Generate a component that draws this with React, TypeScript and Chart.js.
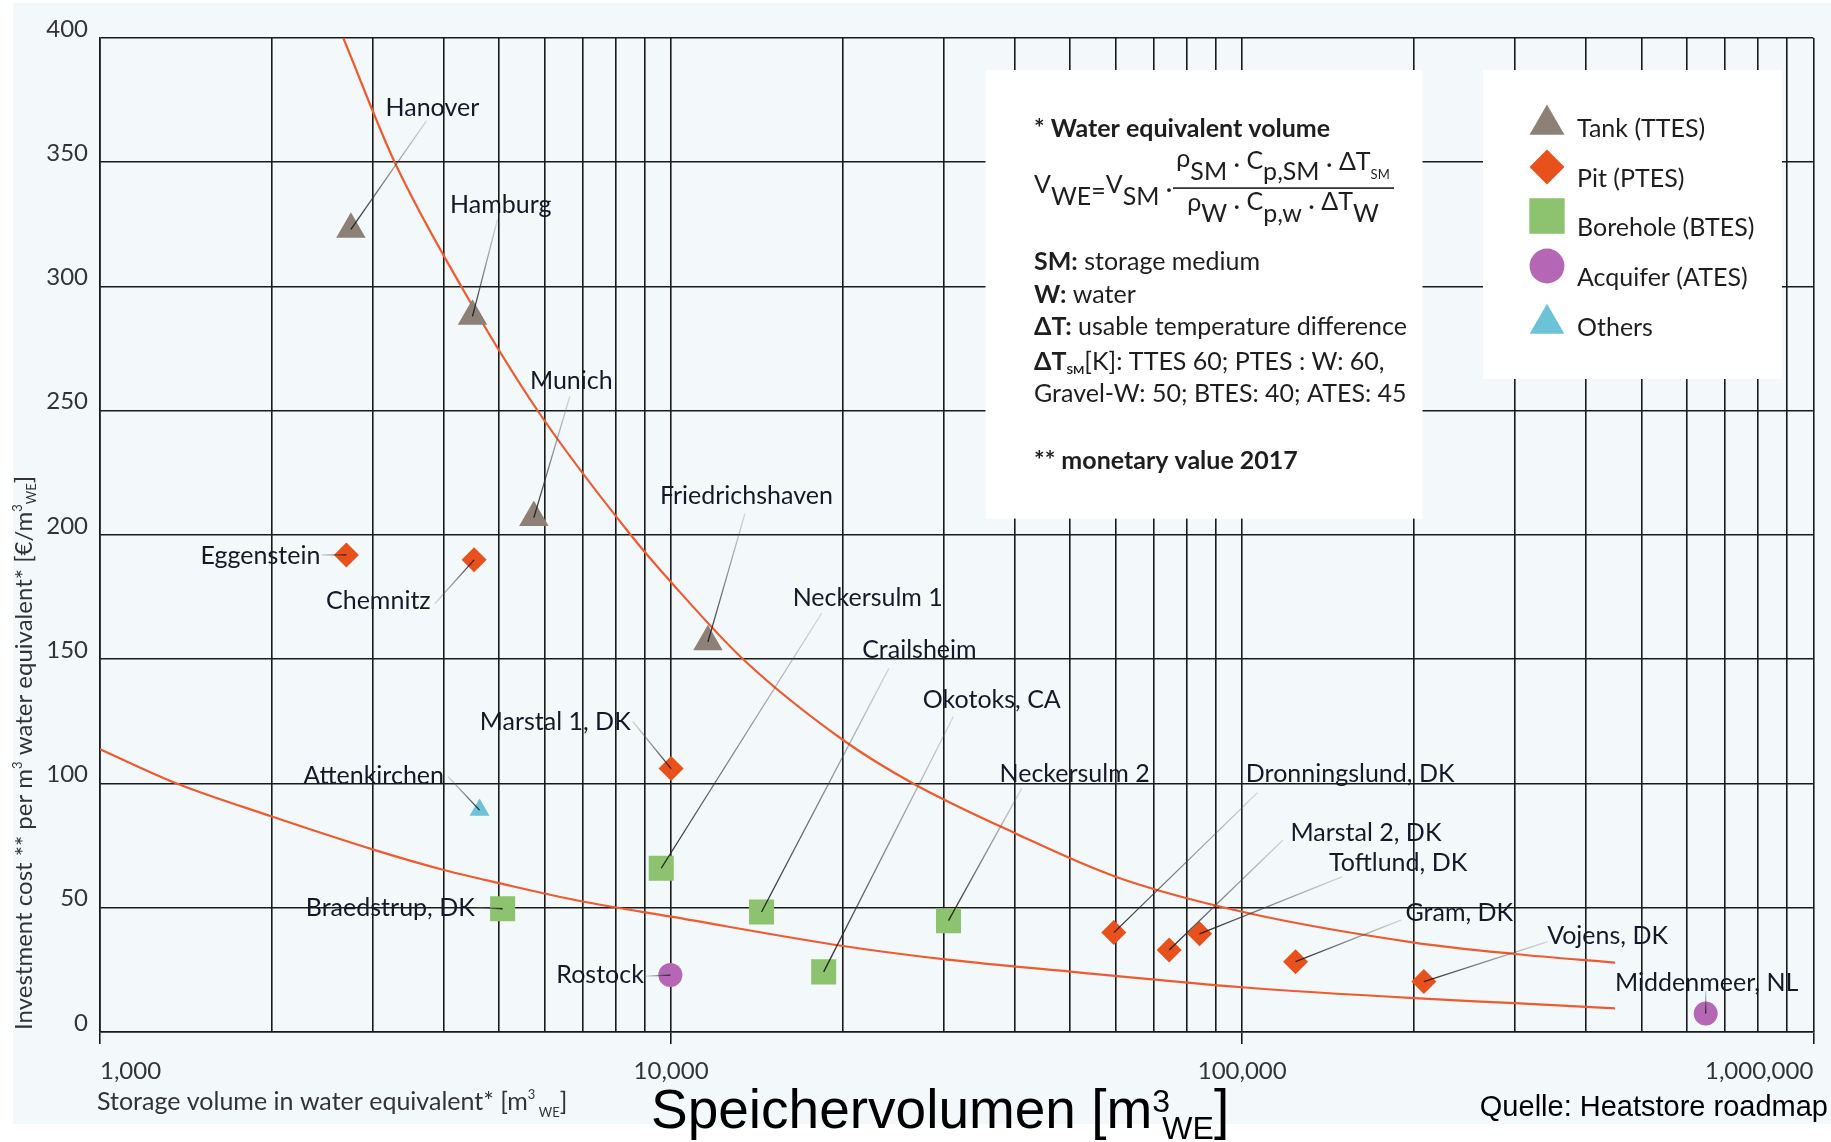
import React, { useEffect, useRef } from 'react';
import { Chart, registerables } from 'chart.js';

Chart.register(...registerables);

const W = 1831;
const H = 1142;

// ---------- tick definitions ----------
const xMajorTicks = [1000, 10000, 100000, 1000000];
const xTickLabels = ['1,000', '10,000', '100,000', '1,000,000'];
const xMinorSteps = [2, 3, 4, 5, 6, 7, 8, 9];
const yTickValues = [0, 50, 100, 150, 200, 250, 300, 350, 400];
const yTickLabels = ['0', '50', '100', '150', '200', '250', '300', '350', '400'];

// ---------- data (volume m3 WE, cost EUR/m3 WE) ----------
const tankNames = ['Hanover', 'Hamburg', 'Munich', 'Friedrichshaven'];
const tankVolume = [2750, 4490, 5750, 11600];
const tankCost = [323, 288, 207, 157];

const pitNames = ['Eggenstein', 'Chemnitz', 'Marstal 1, DK', 'Dronningslund, DK', 'Marstal 2, DK', 'Toftlund, DK', 'Gram, DK', 'Vojens, DK'];
const pitVolume = [2700, 4520, 10000, 59600, 74500, 84200, 124000, 208000];
const pitCost = [192, 190, 106, 40, 33, 39.5, 28.3, 20.3];

const boreholeNames = ['Braedstrup, DK', 'Neckersulm 1', 'Crailsheim', 'Okotoks, CA', 'Neckersulm 2'];
const boreholeVolume = [5070, 9610, 14400, 18500, 30600];
const boreholeCost = [49.6, 65.9, 48.3, 24.2, 44.8];

const aquiferNames = ['Rostock', 'Middenmeer, NL'];
const aquiferVolume = [9970, 648000];
const aquiferCost = [22.9, 7.4];

const otherNames = ['Attenkirchen'];
const otherVolume = [4620];
const otherCost = [89.3];

const upperCurveVolume = [2667, 3281, 4292, 5840, 8500, 10000, 13370, 20000, 26530, 40000, 60000, 100000, 200000, 300000, 449600];
const upperCurveCost = [400, 350, 300, 250, 200, 181, 150, 117.5, 100, 80, 62.5, 48.4, 36, 31.4, 27.9];

const lowerCurveVolume = [1000, 1363, 2000, 3000, 4000, 5000, 7000, 10000, 20000, 30760, 50000, 100000, 200000, 300000, 449600];
const lowerCurveCost = [113.8, 100, 86.7, 73.5, 65.2, 59.9, 52.5, 46.4, 34.6, 29, 24.3, 18, 13.6, 11.6, 9.5];

// ---------- styles / layout ----------
const BG = '#F3F8FB';
const GRID = '#1a1a1a';
const TICK = '#333333';
const LABEL = '#17172a';
const CURVE = '#F05A2E';
const C_TANK = '#8C8077';
const C_PIT = '#E8501C';
const C_BTES = '#8DC26F';
const C_ATES = '#B566B5';
const C_OTHER = '#6CC2D6';
const FONT = 'Lato, "Open Sans", "DejaVu Sans", sans-serif';
const ARIAL = '"Liberation Sans", Arial, sans-serif';
const LABEL_SIZE = 25;
const NOTE_SIZE = 25;

// label placement relative to the marker pixel: text anchor (tx,ty), leader start (lx,ly)
const labelLayout: Record<string, { tx: number; ty: number; align: CanvasTextAlign; lx: number; ly: number }> = {
  'Hanover': { tx: 34.6, ty: -122, align: 'left', lx: 75.5, ly: -108.5 },
  'Hamburg': { tx: -22.4, ty: -111.9, align: 'left', lx: 24.9, ly: -96.7 },
  'Munich': { tx: -3.9, ty: -137.2, align: 'left', lx: 36, ly: -121.4 },
  'Friedrichshaven': { tx: -48, ty: -146.5, align: 'left', lx: 37, ly: -128.2 },
  'Eggenstein': { tx: -26, ty: 0, align: 'right', lx: -25, ly: 0 },
  'Chemnitz': { tx: -43.5, ty: 40, align: 'right', lx: -39.5, ly: 44 },
  'Marstal 1, DK': { tx: -40.4, ty: -47.3, align: 'right', lx: -38.4, ly: -47.3 },
  'Dronningslund, DK': { tx: 132, ty: -159.3, align: 'left', lx: 143.7, ly: -140 },
  'Marstal 2, DK': { tx: 121.3, ty: -118.3, align: 'left', lx: 113.8, ly: -110 },
  'Toftlund, DK': { tx: 129.5, ty: -72.3, align: 'left', lx: 142.9, ly: -57.3 },
  'Gram, DK': { tx: 110, ty: -50, align: 'left', lx: 105.9, ly: -41.7 },
  'Vojens, DK': { tx: 123.3, ty: -46.7, align: 'left', lx: 124, ly: -40 },
  'Braedstrup, DK': { tx: -27.9, ty: -1.7, align: 'right', lx: -27, ly: -1.4 },
  'Neckersulm 1': { tx: 131.4, ty: -271.6, align: 'left', lx: 160.4, ly: -255 },
  'Crailsheim': { tx: 100.7, ty: -262.9, align: 'left', lx: 127.3, ly: -243.6 },
  'Okotoks, CA': { tx: 99.1, ty: -272.7, align: 'left', lx: 129.8, ly: -255.3 },
  'Neckersulm 2': { tx: 51, ty: -147.4, align: 'left', lx: 73.3, ly: -132.5 },
  'Rostock': { tx: -26.5, ty: -1, align: 'right', lx: -24.6, ly: 1 },
  'Middenmeer, NL': { tx: 1, ty: -31.6, align: 'center', lx: 0, ly: -23 },
  'Attenkirchen': { tx: -35.6, ty: -35.3, align: 'right', lx: -31.7, ly: -33.6 },
};

type Run = { t: string; size: number; bold?: boolean; dy?: number; font?: string };

function setFont(ctx: CanvasRenderingContext2D, r: Run) {
  ctx.font = `${r.bold ? 'bold ' : ''}${r.size}px ${r.font || FONT}`;
}
function runsWidth(ctx: CanvasRenderingContext2D, runs: Run[]) {
  let w = 0;
  for (const r of runs) { setFont(ctx, r); w += ctx.measureText(r.t).width; }
  return w;
}
function drawRuns(ctx: CanvasRenderingContext2D, runs: Run[], x: number, y: number) {
  let cx = x;
  for (const r of runs) {
    setFont(ctx, r);
    ctx.fillText(r.t, cx, y + (r.dy || 0));
    cx += ctx.measureText(r.t).width;
  }
  return cx;
}

function drawShape(ctx: CanvasRenderingContext2D, style: string, x: number, y: number, r: number, color: string) {
  ctx.beginPath();
  ctx.fillStyle = color;
  if (style === 'triangle') {
    ctx.moveTo(x, y - r);
    ctx.lineTo(x + 0.8660254 * r, y + 0.5 * r);
    ctx.lineTo(x - 0.8660254 * r, y + 0.5 * r);
    ctx.closePath();
  } else if (style === 'rectRot') {
    ctx.moveTo(x, y - r); ctx.lineTo(x + r, y); ctx.lineTo(x, y + r); ctx.lineTo(x - r, y); ctx.closePath();
  } else if (style === 'rect') {
    const s = Math.SQRT1_2 * r;
    ctx.rect(x - s, y - s, 2 * s, 2 * s);
  } else {
    ctx.arc(x, y, r, 0, Math.PI * 2);
  }
  ctx.fill();
}

const legendItems = [
  { text: 'Tank (TTES)', style: 'triangle', color: C_TANK, r: 20.2, my: 124.7, ty: 136.6 },
  { text: 'Pit (PTES)', style: 'rectRot', color: C_PIT, r: 17.5, my: 167, ty: 186.5 },
  { text: 'Borehole (BTES)', style: 'rect', color: C_BTES, r: 25, my: 216, ty: 236 },
  { text: 'Acquifer (ATES)', style: 'circle', color: C_ATES, r: 17.4, my: 266, ty: 286 },
  { text: 'Others', style: 'triangle', color: C_OTHER, r: 20, my: 323.7, ty: 335.5 },
];

const overlayPlugin = {
  id: 'overlay',
  beforeDraw(chart: any) {
    const ctx = chart.ctx as CanvasRenderingContext2D;
    ctx.save();
    ctx.fillStyle = '#ffffff';
    ctx.fillRect(0, 0, W, H);
    ctx.fillStyle = BG;
    ctx.fillRect(13, 3, W - 13, 1121);
    ctx.restore();
  },
  beforeDatasetsDraw(chart: any) {
    const ctx = chart.ctx as CanvasRenderingContext2D;
    ctx.save();
    ctx.fillStyle = '#ffffff';
    ctx.fillRect(985.5, 70, 437, 448.6);
    ctx.fillRect(1483, 70, 299, 309);
    ctx.restore();
  },
  afterDatasetsDraw(chart: any) {
    const ctx = chart.ctx as CanvasRenderingContext2D;
    ctx.save();
    chart.data.datasets.forEach((ds: any, di: number) => {
      if (!ds.names) return;
      const meta = chart.getDatasetMeta(di);
      meta.data.forEach((el: any, i: number) => {
        const name = ds.names[i];
        const lay = labelLayout[name];
        if (!lay) return;
        const mx = el.x, my = el.y;
        const lx = mx + lay.lx, ly = my + lay.ly;
        const g = ctx.createLinearGradient(lx, ly, mx, my);
        g.addColorStop(0, 'rgba(110,110,110,0.25)');
        g.addColorStop(1, 'rgba(25,25,25,0.95)');
        ctx.strokeStyle = g;
        ctx.lineWidth = 1.3;
        ctx.beginPath();
        ctx.moveTo(lx, ly);
        ctx.lineTo(mx, my);
        ctx.stroke();
        ctx.fillStyle = LABEL;
        ctx.font = `${LABEL_SIZE}px ${FONT}`;
        ctx.textAlign = lay.align;
        ctx.textBaseline = 'middle';
        ctx.fillText(name, mx + lay.tx, my + lay.ty + 1);
      });
    });
    ctx.restore();
  },
  afterDraw(chart: any) {
    const ctx = chart.ctx as CanvasRenderingContext2D;
    ctx.save();
    ctx.textBaseline = 'alphabetic';
    ctx.textAlign = 'left';

    // ---- annotation box ----
    ctx.fillStyle = '#1e1e1e';
    const ax = 1034;
    drawRuns(ctx, [{ t: '* Water equivalent volume', size: NOTE_SIZE, bold: true }], ax, 137);
    drawRuns(ctx, [
      { t: 'V', size: 25, dy: -12 },
      { t: 'WE', size: 25 },
      { t: '=', size: 25, dy: -5 },
      { t: 'V', size: 25, dy: -12 },
      { t: 'SM', size: 25 },
      { t: ' · ', size: 25, dy: -7 },
    ], ax, 205);
    ctx.fillStyle = '#1e1e1e';
    ctx.fillRect(1173, 187.3, 221, 1.6);
    const num: Run[] = [
      { t: 'ρ', size: 25, dy: -13 }, { t: 'SM', size: 25 }, { t: ' · ', size: 25, dy: -7 },
      { t: 'C', size: 25, dy: -11 }, { t: 'p,SM', size: 25 }, { t: ' · ', size: 25, dy: -7 },
      { t: 'ΔT', size: 25, dy: -10 }, { t: 'SM', size: 13, dy: -1 },
    ];
    const den: Run[] = [
      { t: 'ρ', size: 25, dy: -11 }, { t: 'W', size: 25 }, { t: ' · ', size: 25, dy: -7 },
      { t: 'C', size: 25, dy: -12 }, { t: 'p,w', size: 25 }, { t: ' · ', size: 25, dy: -7 },
      { t: 'ΔT', size: 25, dy: -12 }, { t: 'W', size: 25 },
    ];
    const fc = 1283;
    drawRuns(ctx, num, fc - runsWidth(ctx, num) / 2, 180);
    drawRuns(ctx, den, fc - runsWidth(ctx, den) / 2, 222);

    drawRuns(ctx, [{ t: 'SM:', size: NOTE_SIZE, bold: true }, { t: ' storage medium', size: NOTE_SIZE }], ax, 270);
    drawRuns(ctx, [{ t: 'W:', size: NOTE_SIZE, bold: true }, { t: ' water', size: NOTE_SIZE }], ax, 303);
    drawRuns(ctx, [{ t: 'ΔT:', size: NOTE_SIZE, bold: true }, { t: ' usable temperature difference', size: NOTE_SIZE }], ax, 335);
    drawRuns(ctx, [
      { t: 'ΔT', size: NOTE_SIZE, bold: true }, { t: 'SM', size: 12, bold: true, dy: 4 },
      { t: '[K]: TTES 60; PTES : W: 60,', size: NOTE_SIZE },
    ], ax, 370);
    drawRuns(ctx, [{ t: 'Gravel-W: 50; BTES: 40; ATES: 45', size: NOTE_SIZE }], ax, 402);
    drawRuns(ctx, [{ t: '** monetary value 2017', size: NOTE_SIZE, bold: true }], ax, 469);

    // ---- legend ----
    for (const it of legendItems) {
      drawShape(ctx, it.style, 1547, it.my, it.r, it.color);
      ctx.fillStyle = '#1e1e1e';
      drawRuns(ctx, [{ t: it.text, size: 25 }], 1577, it.ty);
    }

    // ---- x axis title ----
    ctx.fillStyle = '#333333';
    drawRuns(ctx, [
      { t: 'Storage volume in water equivalent* [m', size: 25 },
      { t: '3', size: 13, dy: -11 },
      { t: ' ', size: 13 },
      { t: 'WE', size: 13, dy: 7 },
      { t: ']', size: 25 },
    ], 97, 1110);

    // ---- y axis title (rotated) ----
    ctx.save();
    ctx.translate(32, 1030);
    ctx.rotate(-Math.PI / 2);
    drawRuns(ctx, [
      { t: 'Investment cost ** per m', size: 24 },
      { t: '3', size: 13, dy: -10 },
      { t: ' water equivalent* [€/m', size: 24 },
      { t: '3', size: 13, dy: -10 },
      { t: 'WE', size: 13, dy: 4 },
      { t: ']', size: 24 },
    ], 0, 0);
    ctx.restore();

    // ---- overlaid German title and source ----
    ctx.fillStyle = '#000000';
    const x0 = 651;
    const endM = drawRuns(ctx, [{ t: 'Speichervolumen [m', size: 55, font: ARIAL }], x0, 1128);
    drawRuns(ctx, [{ t: '3', size: 32, font: ARIAL }], endM, 1112);
    const endWE = drawRuns(ctx, [{ t: 'WE', size: 32, font: ARIAL }], endM + 10, 1139);
    drawRuns(ctx, [{ t: ']', size: 55, font: ARIAL }], endWE, 1128);

    ctx.font = `29px ${ARIAL}`;
    ctx.textAlign = 'right';
    ctx.fillText('Quelle: Heatstore roadmap', 1828, 1116);
    ctx.restore();
  },
};

function pts(xs: number[], ys: number[]) {
  return xs.map((x, i) => ({ x, y: ys[i] }));
}

export default function App() {
  const ref = useRef<HTMLCanvasElement | null>(null);
  useEffect(() => {
    document.body.style.margin = '0';
    const canvas = ref.current!;
    const xGridValues: number[] = [];
    xMajorTicks.forEach((m, i) => {
      xGridValues.push(m);
      if (i < xMajorTicks.length - 1) xMinorSteps.forEach((s) => xGridValues.push(m * s));
    });
    const markerBase = { showLine: false, borderWidth: 0, pointBorderWidth: 0, pointHoverRadius: 0 };
    const chart = new Chart(canvas, {
      type: 'scatter',
      data: {
        datasets: [
          { ...markerBase, label: 'Tank (TTES)', names: tankNames, data: pts(tankVolume, tankCost), pointStyle: 'triangle', pointRadius: 17, backgroundColor: C_TANK, order: 1 } as any,
          { ...markerBase, label: 'Pit (PTES)', names: pitNames, data: pts(pitVolume, pitCost), pointStyle: 'rectRot', pointRadius: 12.5, backgroundColor: C_PIT, order: 1 } as any,
          { ...markerBase, label: 'Borehole (BTES)', names: boreholeNames, data: pts(boreholeVolume, boreholeCost), pointStyle: 'rect', pointRadius: 17.7, backgroundColor: C_BTES, order: 1 } as any,
          { ...markerBase, label: 'Acquifer (ATES)', names: aquiferNames, data: pts(aquiferVolume, aquiferCost), pointStyle: 'circle', pointRadius: 12, backgroundColor: C_ATES, order: 1 } as any,
          { ...markerBase, label: 'Others', names: otherNames, data: pts(otherVolume, otherCost), pointStyle: 'triangle', pointRadius: 11.5, backgroundColor: C_OTHER, order: 1 } as any,
          { type: 'line', label: 'upper', data: pts(upperCurveVolume, upperCurveCost), showLine: true, borderColor: CURVE, borderWidth: 2.2, pointRadius: 0, cubicInterpolationMode: 'monotone', fill: false, order: 2 } as any,
          { type: 'line', label: 'lower', data: pts(lowerCurveVolume, lowerCurveCost), showLine: true, borderColor: CURVE, borderWidth: 2.2, pointRadius: 0, cubicInterpolationMode: 'monotone', fill: false, order: 2 } as any,
        ],
      },
      options: {
        responsive: false,
        animation: false,
        devicePixelRatio: 1,
        events: [],
        layout: { padding: { left: 0, top: 38, right: 17, bottom: 50 } },
        plugins: { legend: { display: false }, tooltip: { enabled: false }, title: { display: false } },
        scales: {
          x: {
            type: 'logarithmic',
            min: 1000,
            max: 1000000,
            afterBuildTicks: (scale: any) => {
              scale.ticks = xGridValues.map((v) => ({ value: v, major: xMajorTicks.includes(v) }));
            },
            afterFit: (scale: any) => { scale.height = 60; },
            grid: {
              color: GRID,
              lineWidth: 1.6,
              drawTicks: true,
              tickLength: 12,
              tickWidth: 1.6,
              tickColor: (c: any) => (c.tick && xMajorTicks.includes(c.tick.value) ? GRID : 'rgba(0,0,0,0)'),
            },
            border: { color: GRID, width: 1.6 },
            ticks: {
              autoSkip: false,
              maxRotation: 0,
              minRotation: 0,
              align: 'inner',
              padding: 13,
              color: TICK,
              font: { family: FONT, size: 24 },
              callback: (v: any) => {
                const i = xMajorTicks.indexOf(Number(v));
                return i >= 0 ? xTickLabels[i] : '';
              },
            },
          },
          y: {
            min: 0,
            max: 400,
            afterBuildTicks: (scale: any) => {
              scale.ticks = yTickValues.map((v) => ({ value: v }));
            },
            afterFit: (scale: any) => { scale.width = 100; },
            grid: { color: GRID, lineWidth: 1.6, drawTicks: false },
            border: { color: GRID, width: 1.6 },
            ticks: {
              padding: 12,
              labelOffset: -9,
              color: TICK,
              font: { family: FONT, size: 24 },
              callback: (v: any) => {
                const i = yTickValues.indexOf(Number(v));
                return i >= 0 ? yTickLabels[i] : '';
              },
            },
          },
        },
      } as any,
      plugins: [overlayPlugin as any],
    });
    return () => chart.destroy();
  }, []);
  return (
    <div style={{ position: 'absolute', left: 0, top: 0, width: W, height: H }}>
      <canvas ref={ref} width={W} height={H} style={{ display: 'block', width: W, height: H }} />
    </div>
  );
}
